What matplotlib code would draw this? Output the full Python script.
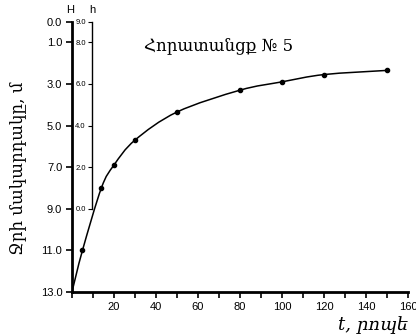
import matplotlib
matplotlib.use('Agg')
import matplotlib.pyplot as plt
import numpy as np
from matplotlib.path import Path
from matplotlib.patches import PathPatch

# readings from borehole No 5
t = [0, 5, 14, 20, 30, 50, 80, 100, 120, 150]
H = [13.0, 11.0, 8.0, 6.9, 5.7, 4.35, 3.3, 2.9, 2.55, 2.35]
markers_t = t[1:]
markers_H = H[1:]

H_ticks = [0, 1, 3, 5, 7, 9, 11, 13]
h_ticks = [9, 8, 6, 4, 2, 0]

title = 'Հորատանցք № 5'
ylabel = 'Ջրի մակարդակը, մ'
xlabel = 't, րոպե'


def smooth_path(xs, ys):
    # Catmull-Rom -> cubic Bezier, only used to draw the line smoothly
    pts = np.column_stack([xs, ys]).astype(float)
    verts = [pts[0]]
    codes = [Path.MOVETO]
    n = len(pts)
    for i in range(n - 1):
        p0 = pts[i - 1] if i > 0 else pts[i]
        p1 = pts[i]
        p2 = pts[i + 1]
        p3 = pts[i + 2] if i + 2 < n else pts[i + 1]
        c1 = p1 + (p2 - p0) / 6.0
        c2 = p2 - (p3 - p1) / 6.0
        verts += [c1, c2, p2]
        codes += [Path.CURVE4] * 3
    return Path(verts, codes)


fig = plt.figure(figsize=(4.16, 3.36), dpi=100)
ax = fig.add_axes([0.173, 0.131, 0.808, 0.805])

ax.add_patch(PathPatch(smooth_path(t, H), fill=False, lw=1.1, color='black'))
ax.plot(markers_t, markers_H, 'o', color='black', ms=3)

ax.set_xlim(0, 160)
ax.set_ylim(13, 0)
ax.set_xticks(range(20, 161, 20))
ax.set_xticks(range(0, 161, 10), minor=True)
ax.set_yticks(H_ticks)
ax.set_yticklabels(['%.1f' % v for v in H_ticks], fontsize=8, family='Liberation Sans')
ax.set_xticklabels([str(v) for v in range(20, 161, 20)], fontsize=8, family='Liberation Sans')
ax.tick_params(axis='both', which='both', direction='out', width=1.2, color='black')
ax.tick_params(axis='x', which='major', length=4)
ax.tick_params(axis='x', which='minor', length=4)
ax.tick_params(axis='y', length=4, pad=3)

for s in ['top', 'right']:
    ax.spines[s].set_visible(False)
for s in ['left', 'bottom']:
    ax.spines[s].set_linewidth(2)

# inner h scale (h = 9 - H)
y_top = 1 - 21.5 / 336
y_bot = 1 - (21.5 + 9 * 20.8) / 336
ax2 = fig.add_axes([0.221, y_bot, 0.1, y_top - y_bot])
ax2.patch.set_visible(False)
ax2.set_ylim(0, 9)
ax2.set_yticks(h_ticks)
ax2.set_yticklabels(['%.1f' % v for v in h_ticks], fontsize=5.5, family='Liberation Sans')
ax2.set_xticks([])
ax2.tick_params(axis='y', length=3, width=0.8, pad=1.5)
for s in ['top', 'right', 'bottom']:
    ax2.spines[s].set_visible(False)
ax2.spines['left'].set_linewidth(1)

fig.text(70 / 416, 1 - 10 / 336, 'H', fontsize=8, family='Liberation Sans', ha='center', va='center')
fig.text(92 / 416, 1 - 10 / 336, 'h', fontsize=8, family='Liberation Sans', ha='center', va='center')

ax.text(70, 1.15, title, fontsize=12, family=['DejaVu Serif'], ha='center', va='center')
fig.text(18 / 416, 0.5, ylabel, fontsize=12, family=['DejaVu Serif'], rotation=90,
         ha='center', va='center')
fig.text(408 / 416, 1 - 325 / 336, xlabel, fontsize=13, family=['DejaVu Serif'], style='italic',
         ha='right', va='center')

fig.savefig('out.png', dpi=100)
